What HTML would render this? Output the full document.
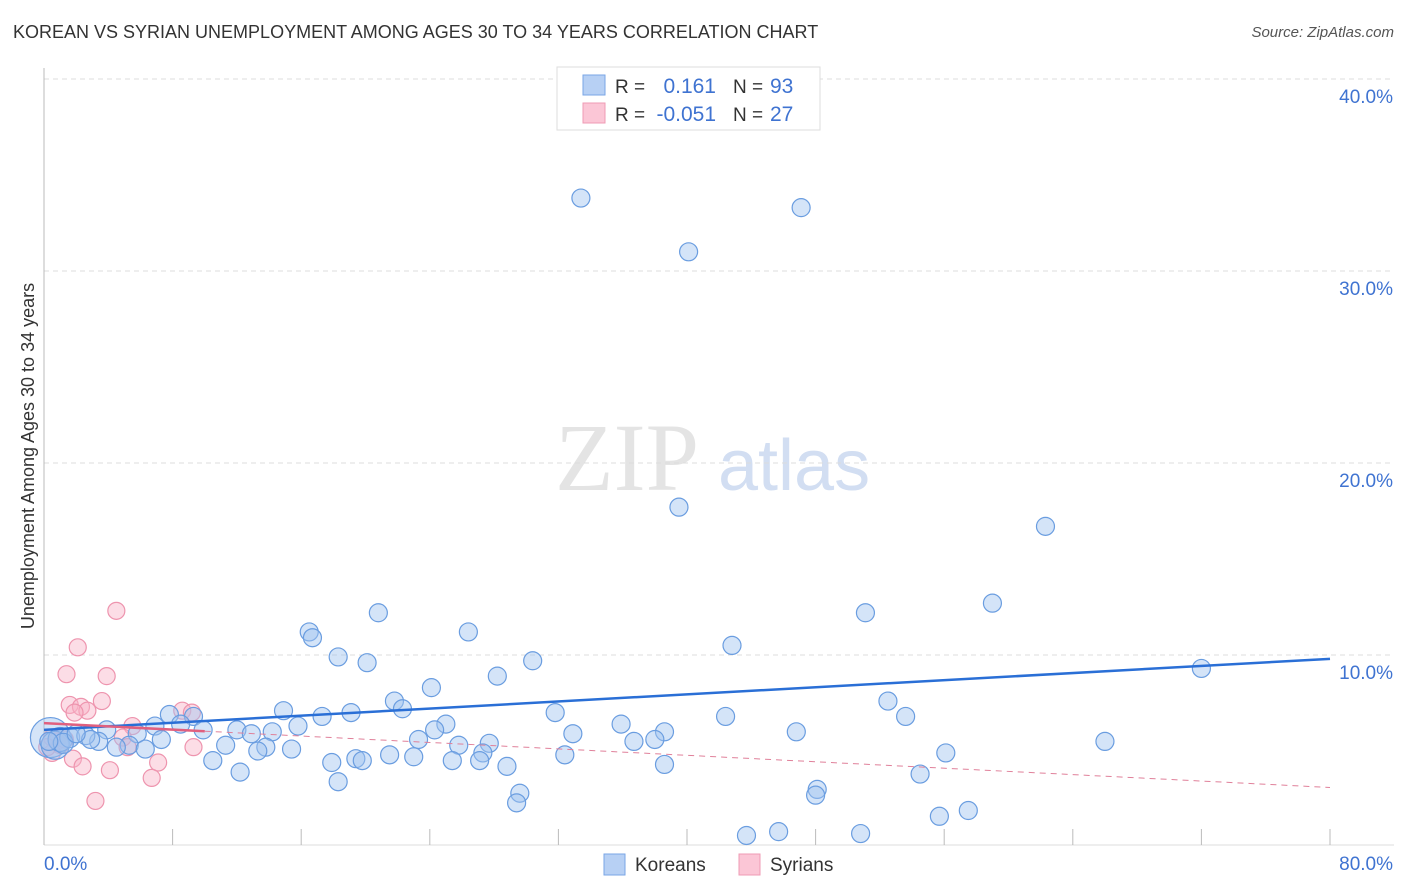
<!DOCTYPE html>
<html><head><meta charset="utf-8"><style>
body{margin:0;background:#fff;font-family:"Liberation Sans",sans-serif;}
#c{position:relative;width:1406px;height:892px;overflow:hidden}
.t{position:absolute;white-space:nowrap}
</style></head><body>
<div id="c">
<div class="t" style="left:13px;top:22px;font-size:18px;color:#333">KOREAN VS SYRIAN UNEMPLOYMENT AMONG AGES 30 TO 34 YEARS CORRELATION CHART</div>
<div class="t" style="right:12px;top:24px;font-size:15px;color:#555;font-style:italic">Source: ZipAtlas.com</div>
<svg id="s" width="1406" height="892" style="position:absolute;left:0;top:0"></svg>
</div>
<script>
const xTicksPct=[0,80];
const yTicks=[10,20,30,40];
const korX=[33.4,47.1,40.1,39.5,62.3,59.0,51.1,20.8,16.5,16.7,26.4,42.8,30.4,18.3,20.1,72.0,28.2,24.1,52.5,21.8,22.3,14.9,19.1,17.3,31.8,53.6,42.4,25.0,35.9,24.3,7.8,9.3,8.5,6.9,12.0,46.8,38.6,32.9,15.8,14.2,12.9,9.9,3.9,5.8,23.3,38.0,36.7,66.0,27.7,25.8,11.3,13.8,3.4,7.3,5.3,6.3,13.3,15.4,27.3,56.1,21.5,23.0,32.4,19.4,19.8,10.5,25.4,27.1,17.9,38.6,28.8,12.2,54.5,18.3,29.6,48.1,48.0,29.4,57.5,55.7,43.7,45.7,50.8,0.4,0.7,1.0,1.6,2.6,2.9,1.2,4.5,2.0,0.3];
const korY=[33.8,33.3,31.0,17.7,16.7,12.7,12.2,12.2,11.2,10.9,11.2,10.5,9.7,9.9,9.6,9.3,8.9,8.3,7.6,7.6,7.2,7.1,7.0,6.8,7.0,6.8,6.8,6.4,6.4,6.1,6.9,6.8,6.4,6.3,6.1,6.0,6.0,5.9,6.3,6.0,5.9,6.1,6.1,5.9,5.6,5.6,5.5,5.5,5.4,5.3,5.3,5.2,5.5,5.6,5.3,5.1,5.0,5.1,4.9,4.9,4.8,4.7,4.8,4.6,4.5,4.5,4.5,4.5,4.4,4.3,4.2,3.9,3.8,3.4,2.8,3.0,2.7,2.3,1.9,1.6,0.6,0.8,0.7,5.7,5.3,5.6,5.7,5.8,5.6,5.4,5.2,5.9,5.5];
const korR=[9,9,9,9,9,9,9,9,9,9,9,9,9,9,9,9,9,9,9,9,9,9,9,9,9,9,9,9,9,9,9,9,9,9,9,9,9,9,9,9,9,9,9,9,9,9,9,9,9,9,9,9,9,9,9,9,9,9,9,9,9,9,9,9,9,9,9,9,9,9,9,9,9,9,9,9,9,9,9,9,9,9,9,20,14,12,10,9,9,10,9,9,9];
const syrX=[4.5,2.1,1.4,3.9,1.6,3.6,2.3,2.7,1.9,8.6,9.2,5.5,0.5,0.8,1.0,4.9,5.2,9.3,0.5,1.8,7.1,2.4,4.1,6.7,3.2,0.2,1.3];
const syrY=[12.3,10.4,9.0,8.9,7.4,7.6,7.3,7.1,7.0,7.1,7.0,6.3,5.7,5.5,5.3,5.7,5.2,5.2,4.9,4.6,4.4,4.2,4.0,3.6,2.4,5.2,5.6];
const korLine=[6.1,9.8];
const syrLine=[6.45,3.1];
const X0=44,X1=1330,Y0=847,YS=19.2;
const xs=v=>X0+(v/80)*(X1-X0);
const ys=v=>Y0-v*YS;
const s=document.getElementById('s');
const NS='http://www.w3.org/2000/svg';
function mk(tag,at,parent){const e=document.createElementNS(NS,tag);for(const k in at)e.setAttribute(k,at[k]);(parent||s).appendChild(e);return e;}
// watermark
let w=mk('text',{x:555,y:490,'font-size':96,'font-family':'Liberation Serif, serif',fill:'#e4e4e4'});w.textContent='ZIP';


w=mk('text',{x:718,y:490,'font-size':72,'font-family':'Liberation Sans, sans-serif',fill:'#d2def2'});w.textContent='atlas';


// grid
yTicks.forEach(v=>{
 const g=mk('line',{x1:X0,x2:1394,y1:ys(v),y2:ys(v),stroke:'#dcdcdc','stroke-dasharray':'5,4'});
 
 
 const t=mk('text',{x:1393,y:ys(v)+24,'text-anchor':'end','font-size':19,fill:'#3f73d1'});t.textContent=v.toFixed(1)+'%';
 
 
});
mk('line',{x1:X0,x2:X0,y1:68,y2:845,stroke:'#bbb'});
mk('line',{x1:X0,x2:1394,y1:845,y2:845,stroke:'#ddd'});
for(let i=0;i<=10;i++){const x=xs(i*8);const tk=mk('line',{x1:x,x2:x,y1:829,y2:845,stroke:'#bbb'});
 
 }
xTicksPct.forEach((v,i)=>{const t=mk('text',{x:i?1393:44,y:870,'text-anchor':i?'end':'start','font-size':19,fill:'#3f73d1'});t.textContent=v.toFixed(1)+'%';
 
 });
const yt=mk('text',{x:0,y:0,'font-size':18,fill:'#333','text-anchor':'middle',transform:'translate(34,456) rotate(-90)'});yt.textContent='Unemployment Among Ages 30 to 34 years';


// points
syrX.forEach((x,i)=>{const c=mk('circle',{cx:xs(x),cy:ys(syrY[i]),r:8.5,fill:'rgba(248,180,200,0.45)',stroke:'#ee94ae','stroke-width':1.2});
 
 });
korX.forEach((x,i)=>{const c=mk('circle',{cx:xs(x),cy:ys(korY[i]),r:korR[i],fill:'rgba(160,195,240,0.45)',stroke:'#6a9de0','stroke-width':1.2});
 
 });
// trend lines
let l=mk('line',{x1:xs(0),y1:ys(korLine[0]),x2:xs(80),y2:ys(korLine[1]),stroke:'#2a6fd6','stroke-width':2.5});


const sy=v=>syrLine[0]+(syrLine[1]-syrLine[0])*v/80;
l=mk('line',{x1:xs(0),y1:ys(sy(0)),x2:xs(10),y2:ys(sy(10)),stroke:'#e0607f','stroke-width':2.5});


l=mk('line',{x1:xs(10),y1:ys(sy(10)),x2:xs(80),y2:ys(sy(80)),stroke:'#e0809a','stroke-width':1,'stroke-dasharray':'6,5'});


// top legend
const lg=mk('g',{});


mk('rect',{x:557,y:67,width:263,height:63,fill:'#fff',stroke:'#ddd'},lg);
mk('rect',{x:583,y:75,width:22,height:20,fill:'#b7d0f4',stroke:'#7aa6e6'},lg);
mk('rect',{x:583,y:103,width:22,height:20,fill:'#fbc6d6',stroke:'#ef9bb4'},lg);
[[93,'R =','0.161','N =','93'],[121,'R =','-0.051','N =','27']].forEach(r=>{
 let t=mk('text',{x:615,y:r[0],'font-size':19,fill:'#333'},lg);t.textContent=r[1];
 t=mk('text',{x:716,y:r[0],'font-size':21,fill:'#3f73d1','text-anchor':'end'},lg);t.textContent=r[2];
 t=mk('text',{x:733,y:r[0],'font-size':19,fill:'#333'},lg);t.textContent=r[3];
 t=mk('text',{x:770,y:r[0],'font-size':21,fill:'#3f73d1'},lg);t.textContent=r[4];
});
// bottom legend
[[604,'#b7d0f4','#7aa6e6','Koreans','legend-koreans'],[739,'#fbc6d6','#ef9bb4','Syrians','legend-syrians']].forEach(e=>{
 const g=mk('g',{});
 
 
 mk('rect',{x:e[0],y:854,width:21,height:21,fill:e[1],stroke:e[2]},g);
 const t=mk('text',{x:e[0]+31,y:871,'font-size':19,fill:'#333'},g);t.textContent=e[3];
});
</script>
</body></html>
